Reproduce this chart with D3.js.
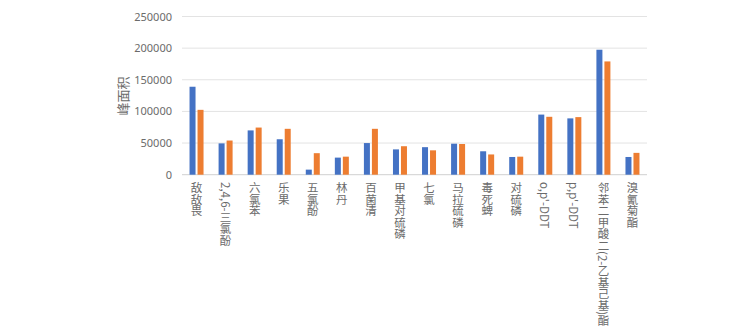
<!DOCTYPE html>
<html><head><meta charset="utf-8">
<script src="https://cdn.jsdelivr.net/npm/d3@7"></script>
<style>body{margin:0;background:#fff;}svg{display:block;font-family:"Noto Sans CJK SC","Noto Sans",sans-serif;}</style>
</head><body><svg id="c" width="756" height="333"></svg>
<script>
const categories = ["敌敌畏","2,4,6-三氯酚","六氯苯","乐果","五氯酚","林丹","百菌清","甲基对硫磷","七氯","马拉硫磷","毒死蜱","对硫磷","o,p'-DDT","p,p'-DDT","邻苯二甲酸二(2-乙基己基)酯","溴氰菊酯"];
const series1 = [139000,49500,70000,56000,8000,27000,50000,40000,43500,49000,37000,28000,95000,89000,197500,28000];
const series2 = [102500,54000,74500,72500,34000,28500,72500,45000,38500,48500,32000,28500,91500,91000,179000,34500];
const yTicks = [0,50000,100000,150000,200000,250000];
const yTitle = "峰面积";

(function(){
const svg = d3.select("#c");
const mLeft = 182, mRight = 647, mTop = 16.5, mBottom = 174.7;
const x = d3.scaleBand().domain(categories).range([mLeft, mRight]).paddingInner(0).paddingOuter(0);
const y = d3.scaleLinear().domain([0,250000]).range([mBottom, mTop]);

const grid = svg.append("g");
grid.selectAll("line").data(yTicks).join("line")
  .attr("x1", mLeft).attr("x2", mRight)
  .attr("y1", d=>y(d)).attr("y2", d=>y(d))
  .attr("stroke", d=> d===0 ? "#d0d0d0" : "#e3e3e3").attr("stroke-width", 1);

const yAxis = d3.axisLeft(y).tickValues(yTicks).tickSize(0).tickPadding(0).tickFormat(d3.format("d"));
const ya = svg.append("g").attr("transform", `translate(172,0)`).call(yAxis);
ya.select(".domain").remove();
ya.selectAll("text").attr("fill","#6b6b6b").style("font-size","11px").style("font-family","'Noto Sans',sans-serif");

svg.append("text").attr("transform","translate(122,96) rotate(-90)")
  .attr("text-anchor","middle").attr("dominant-baseline","central")
  .attr("fill","#6b6b6b").style("font-size","13px").text(yTitle);

const bw = 6, gap = 2;
const g = svg.append("g");
categories.forEach((c,i)=>{
  const cx = x(c) + x.bandwidth()/2;
  g.append("rect").attr("x", cx - gap/2 - bw).attr("width", bw)
    .attr("y", y(series1[i])).attr("height", y(0)-y(series1[i])).attr("fill","#4472C4");
  g.append("rect").attr("x", cx + gap/2).attr("width", bw)
    .attr("y", y(series2[i])).attr("height", y(0)-y(series2[i])).attr("fill","#ED7D31");
});

const lab = svg.append("g");
lab.selectAll("text").data(categories).join("text")
  .attr("x", d=> x(d)+x.bandwidth()/2).attr("y", 182)
  .style("writing-mode","vertical-rl")
  .style("font-size","11.5px")
  .attr("fill","#6b6b6b")
  .text(d=>d);
})();
</script></body></html>
